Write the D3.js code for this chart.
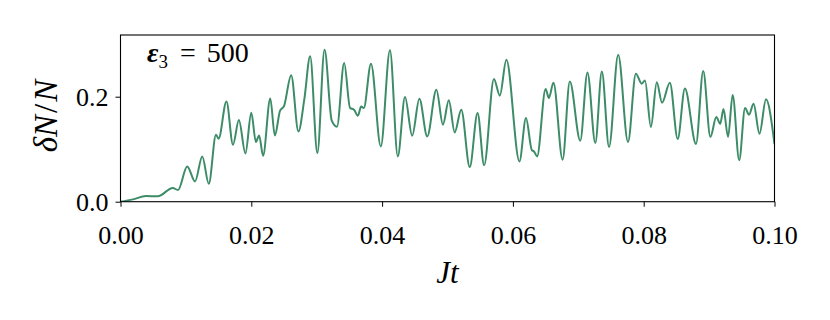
<!DOCTYPE html>
<html lang="en">
<head>
    <meta charset="UTF-8">
    <title>dN/N vs Jt</title>
    <script src="https://d3js.org/d3.v7.min.js"></script>
    <style>
        * { margin: 0; padding: 0; }
        body { background: white; }
        svg { display: block; }
        text { font-family: "Liberation Serif", "DejaVu Serif", serif; fill: black; }
    </style>
</head>
<body>
    <svg width="830" height="320"></svg>

    <script>
        // values (local extrema and shoulders)
        const jt = [
            0.0000, 0.0019, 0.0039, 0.0057, 0.0080, 0.0088, 0.0102, 0.0114, 0.0125, 0.0135,
            0.0146, 0.0150, 0.0162, 0.0172, 0.0181, 0.0191, 0.0200, 0.0207, 0.0212, 0.0218,
            0.0229, 0.0236, 0.0244, 0.0250, 0.0261, 0.0272, 0.0281, 0.0290, 0.0301, 0.0312,
            0.0323, 0.0331, 0.0342, 0.0351, 0.0357, 0.0363, 0.0368, 0.0372, 0.0383, 0.0398,
            0.0412, 0.0424, 0.0435, 0.0446, 0.0457, 0.0469, 0.0483, 0.0493, 0.0502, 0.0511,
            0.0521, 0.0534, 0.0546, 0.0556, 0.0571, 0.0580, 0.0590, 0.0610, 0.0620, 0.0629,
            0.0632, 0.0637, 0.0650, 0.0655, 0.0662, 0.0676, 0.0687, 0.0703, 0.0714, 0.0726,
            0.0736, 0.0747, 0.0761, 0.0776, 0.0788, 0.0797, 0.0802, 0.0811, 0.0820, 0.0828,
            0.0840, 0.0852, 0.0863, 0.0880, 0.0891, 0.0902, 0.0911, 0.0917, 0.0922, 0.0929,
            0.0936, 0.0946, 0.0955, 0.0961, 0.0968, 0.0977, 0.0987, 0.1000
        ];
        const dNN = [
            0.0000, 0.0044, 0.0109, 0.0103, 0.0261, 0.0223, 0.0672, 0.0387, 0.0863, 0.0343,
            0.1276, 0.1200, 0.1910, 0.1086, 0.1556, 0.0920, 0.1695, 0.1139, 0.1261, 0.0876,
            0.1966, 0.1261, 0.1733, 0.1819, 0.2410, 0.1339, 0.1943, 0.2768, 0.0928, 0.2895,
            0.1543, 0.1429, 0.2642, 0.1785, 0.1752, 0.1638, 0.1815, 0.1785, 0.2629, 0.1053,
            0.2886, 0.0863, 0.1994, 0.1257, 0.1962, 0.1244, 0.2133, 0.1467, 0.1930, 0.1320,
            0.1752, 0.0661, 0.1690, 0.0695, 0.2337, 0.2019, 0.2705, 0.0768, 0.1594, 0.0981,
            0.0962, 0.0863, 0.2147, 0.1975, 0.2267, 0.0800, 0.2291, 0.1162, 0.2463, 0.1118,
            0.2482, 0.1042, 0.2800, 0.1137, 0.2438, 0.2248, 0.2310, 0.1423, 0.2276, 0.1886,
            0.2267, 0.1194, 0.2156, 0.1101, 0.2490, 0.1232, 0.1613, 0.1482, 0.1766, 0.1232,
            0.2032, 0.0790, 0.1785, 0.1657, 0.1867, 0.1295, 0.1949, 0.1095
        ];
        const xTicks = [0, 0.02, 0.04, 0.06, 0.08, 0.10];
        const yTicks = [0, 0.2];

        const svg = d3.select("svg");
        const margin = { left: 120.5, right: 55.5, top: 35, bottom: 118.3 };
        const W = 830, H = 320;

        const x = d3.scaleLinear().domain([0, 0.1]).range([margin.left, W - margin.right]);
        const y = d3.scaleLinear().domain([0, 0.3175]).range([H - margin.bottom, margin.top]);

        const points = jt.map((t, i) => [t, dNN[i]]);

        // clip to plot area
        svg.append("defs").append("clipPath").attr("id", "plot")
            .append("rect")
            .attr("x", x(0)).attr("y", y(0.3175))
            .attr("width", x(0.1) - x(0)).attr("height", y(0) - y(0.3175));

        const line = d3.line()
            .x(d => x(d[0]))
            .y(d => y(d[1]))
            .curve(d3.curveMonotoneX);

        svg.append("path")
            .datum(points)
            .attr("clip-path", "url(#plot)")
            .attr("fill", "none")
            .attr("stroke", "#3d8c68")
            .attr("stroke-width", 2)
            .attr("d", line);

        // axes
        const xAxis = svg.append("g")
            .attr("transform", `translate(0,${y(0)})`)
            .call(d3.axisBottom(x).tickValues(xTicks).tickFormat(d3.format(".2f")).tickSize(5).tickPadding(19).tickSizeOuter(0));
        const yAxis = svg.append("g")
            .attr("transform", `translate(${x(0)},0)`)
            .call(d3.axisLeft(y).tickValues(yTicks).tickFormat(d3.format(".1f")).tickSize(5).tickPadding(7).tickSizeOuter(0));

        [xAxis, yAxis].forEach(g => {
            g.select(".domain").remove();
            g.selectAll(".tick line").attr("stroke", "black").attr("stroke-width", 1);
            g.selectAll(".tick text")
                .attr("fill", "black")
                .style("font-family", "'Liberation Serif', serif")
                .style("font-size", "26px");
        });
        yAxis.selectAll(".tick text").attr("dy", "0.34em");

        // frame
        svg.append("rect")
            .attr("x", x(0)).attr("y", y(0.3175))
            .attr("width", x(0.1) - x(0)).attr("height", y(0) - y(0.3175))
            .attr("fill", "none")
            .attr("stroke", "black")
            .attr("stroke-width", 1.1);

        // axis labels
        const xl = svg.append("text")
            .attr("x", (x(0) + x(0.1)) / 2)
            .attr("y", 283)
            .attr("text-anchor", "middle")
            .style("font-size", "31px");
        xl.append("tspan").style("font-style", "italic").text("Jt");

        const yl = svg.append("text")
            .attr("transform", "translate(57,116) rotate(-90)")
            .attr("text-anchor", "middle")
            .style("font-size", "33px");
        yl.append("tspan").style("font-style", "italic").text("δN");
        yl.append("tspan").attr("dx", 2).text("/");
        yl.append("tspan").attr("dx", 2).style("font-style", "italic").text("N");

        // annotation
        const ann = svg.append("text")
            .attr("x", 147)
            .attr("y", 62)
            .style("font-size", "28px");
        ann.append("tspan").style("font-style", "italic").style("font-weight", "bold").text("ε");
        ann.append("tspan").attr("dy", 6).style("font-size", "19px").text("3");
        ann.append("tspan").attr("dy", -6).attr("dx", 12).text("=");
        ann.append("tspan").attr("dx", 11).text("500");
    </script>
</body>
</html>
